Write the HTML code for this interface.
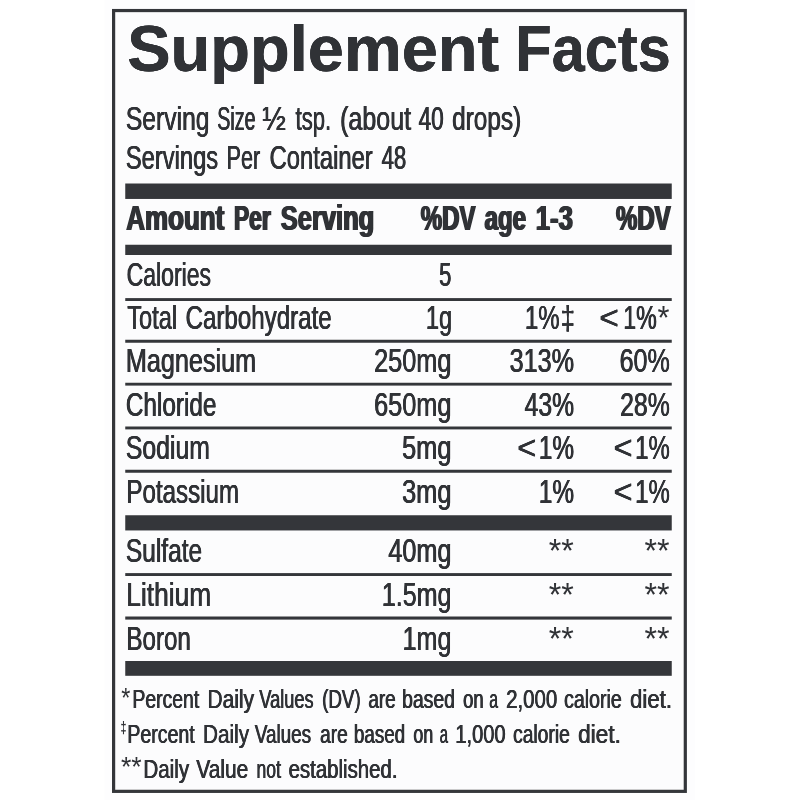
<!DOCTYPE html>
<html lang="en"><head><meta charset="utf-8"><title>Supplement Facts</title>
<style>
html,body{margin:0;padding:0;background:#fff;}
body{width:800px;height:800px;overflow:hidden;position:relative;}
svg{display:block;position:absolute;left:0;top:0;}
.t{position:absolute;left:0;top:0;margin:0;white-space:pre;line-height:1;transform-origin:0 0;
   font-family:"Liberation Sans", sans-serif;color:#303236;font-weight:normal;}
.b{font-weight:bold;}
</style></head>
<body>
<svg width="800" height="800" viewBox="0 0 800 800">
<rect x="104.5" y="0" width="590.8" height="800" fill="#fdfdfe"/>
<rect x="113.6" y="10.55" width="571.7" height="780.8" fill="#fcfcfd" stroke="#34363a" stroke-width="3.2"/>
<rect x="125.25" y="183.50" width="546.50" height="15.45" fill="#34363a"/>
<rect x="125.25" y="244.75" width="546.50" height="10.25" fill="#34363a"/>
<rect x="125.25" y="515.25" width="546.50" height="15.20" fill="#34363a"/>
<rect x="125.25" y="661.00" width="546.50" height="14.80" fill="#34363a"/>
<rect x="125.25" y="298.10" width="546.50" height="2.90" fill="#34363a"/>
<rect x="125.25" y="339.75" width="546.50" height="3.00" fill="#34363a"/>
<rect x="125.25" y="382.75" width="546.50" height="2.85" fill="#34363a"/>
<rect x="125.25" y="426.50" width="546.50" height="2.90" fill="#34363a"/>
<rect x="125.25" y="469.75" width="546.50" height="3.00" fill="#34363a"/>
<rect x="125.25" y="573.10" width="546.50" height="2.90" fill="#34363a"/>
<rect x="125.25" y="616.50" width="546.50" height="3.10" fill="#34363a"/>
</svg>
<div class="t b" style="font-size:65px;text-shadow:0.200px 0 0 #303236,-0.200px 0 0 #303236;transform:matrix(1.0001,0,0,1,127.20,16.00)">Supplement</div>
<div class="t b" style="font-size:65px;text-shadow:0.218px 0 0 #303236,-0.218px 0 0 #303236;transform:matrix(0.9157,0,0,1,515.29,16.00)">Facts</div>
<div class="t" style="font-size:33.2px;text-shadow:0.430px 0 0 #303236,-0.430px 0 0 #303236;transform:matrix(0.7437,0,0,1,125.83,102.00)">Serving</div>
<div class="t" style="font-size:33.2px;text-shadow:0.539px 0 0 #303236,-0.539px 0 0 #303236;transform:matrix(0.5935,0,0,1,217.23,102.00)">Size</div>
<div class="t" style="font-size:33.2px;text-shadow:0.378px 0 0 #303236,-0.378px 0 0 #303236;transform:matrix(0.8467,0,0,1,262.32,102.00)">½</div>
<div class="t" style="font-size:33.2px;text-shadow:0.481px 0 0 #303236,-0.481px 0 0 #303236;transform:matrix(0.6653,0,0,1,295.57,102.00)">tsp.</div>
<div class="t" style="font-size:33.2px;text-shadow:0.424px 0 0 #303236,-0.424px 0 0 #303236;transform:matrix(0.7549,0,0,1,340.06,102.00)">(about</div>
<div class="t" style="font-size:33.2px;text-shadow:0.469px 0 0 #303236,-0.469px 0 0 #303236;transform:matrix(0.6819,0,0,1,418.57,102.00)">40</div>
<div class="t" style="font-size:33.2px;text-shadow:0.436px 0 0 #303236,-0.436px 0 0 #303236;transform:matrix(0.7346,0,0,1,452.09,102.00)">drops)</div>
<div class="t" style="font-size:33.2px;text-shadow:0.448px 0 0 #303236,-0.448px 0 0 #303236;transform:matrix(0.7144,0,0,1,125.86,141.00)">Servings</div>
<div class="t" style="font-size:33.2px;text-shadow:0.490px 0 0 #303236,-0.490px 0 0 #303236;transform:matrix(0.6525,0,0,1,226.51,141.00)">Per</div>
<div class="t" style="font-size:33.2px;text-shadow:0.447px 0 0 #303236,-0.447px 0 0 #303236;transform:matrix(0.7166,0,0,1,269.60,141.00)">Container</div>
<div class="t" style="font-size:33.2px;text-shadow:0.479px 0 0 #303236,-0.479px 0 0 #303236;transform:matrix(0.6682,0,0,1,381.57,141.00)">48</div>
<div class="t b" style="font-size:34.4px;text-shadow:1.060px 0 0 #303236,-1.060px 0 0 #303236;transform:matrix(0.7544,0,0,1,126.30,201.00)">Amount</div>
<div class="t b" style="font-size:34.4px;text-shadow:1.208px 0 0 #303236,-1.208px 0 0 #303236;transform:matrix(0.6624,0,0,1,233.98,201.00)">Per</div>
<div class="t b" style="font-size:34.4px;text-shadow:1.081px 0 0 #303236,-1.081px 0 0 #303236;transform:matrix(0.7403,0,0,1,280.80,201.00)">Serving</div>
<div class="t b" style="font-size:34.4px;text-shadow:1.147px 0 0 #303236,-1.147px 0 0 #303236;transform:matrix(0.6976,0,0,1,420.80,201.00)">%DV</div>
<div class="t b" style="font-size:34.4px;text-shadow:1.146px 0 0 #303236,-1.146px 0 0 #303236;transform:matrix(0.6984,0,0,1,484.60,201.00)">age</div>
<div class="t b" style="font-size:34.4px;text-shadow:1.074px 0 0 #303236,-1.074px 0 0 #303236;transform:matrix(0.7450,0,0,1,535.81,201.00)">1-3</div>
<div class="t b" style="font-size:34.4px;text-shadow:1.147px 0 0 #303236,-1.147px 0 0 #303236;transform:matrix(0.6976,0,0,1,616.00,201.00)">%DV</div>
<div class="t" style="font-size:33.6px;text-shadow:0.467px 0 0 #303236,-0.467px 0 0 #303236;transform:matrix(0.6852,0,0,1,126.63,258.00)">Calories</div>
<div class="t" style="font-size:33.6px;text-shadow:0.490px 0 0 #303236,-0.490px 0 0 #303236;transform:matrix(0.6535,0,0,1,439.17,258.00)">5</div>
<div class="t" style="font-size:33.6px;text-shadow:0.455px 0 0 #303236,-0.455px 0 0 #303236;transform:matrix(0.7034,0,0,1,127.22,301.00)">Total</div>
<div class="t" style="font-size:33.6px;text-shadow:0.446px 0 0 #303236,-0.446px 0 0 #303236;transform:matrix(0.7179,0,0,1,185.60,301.00)">Carbohydrate</div>
<div class="t" style="font-size:33.6px;text-shadow:0.456px 0 0 #303236,-0.456px 0 0 #303236;transform:matrix(0.7011,0,0,1,425.92,301.00)">1g</div>
<div class="t" style="font-size:33.6px;text-shadow:0.448px 0 0 #303236,-0.448px 0 0 #303236;transform:matrix(0.7151,0,0,1,524.89,301.00)">1%</div>
<div class="t" style="font-size:32.4px;text-shadow:0.250px 0 0 #303236,-0.250px 0 0 #303236;transform:matrix(0.8000,0,0,1,560.60,302.00)">‡</div>
<div class="t" style="font-size:33.6px;text-shadow:0.323px 0 0 #303236,-0.323px 0 0 #303236;transform:matrix(0.9918,0,0,1,599.33,301.00)">&lt;</div>
<div class="t" style="font-size:33.6px;text-shadow:0.463px 0 0 #303236,-0.463px 0 0 #303236;transform:matrix(0.6910,0,0,1,623.24,301.00)">1%</div>
<div class="t" style="font-size:33.6px;transform:matrix(0.9154,0,0,1,657.60,301.00)">*</div>
<div class="t" style="font-size:33.6px;text-shadow:0.426px 0 0 #303236,-0.426px 0 0 #303236;transform:matrix(0.7510,0,0,1,125.82,344.00)">Magnesium</div>
<div class="t" style="font-size:33.6px;text-shadow:0.425px 0 0 #303236,-0.425px 0 0 #303236;transform:matrix(0.7536,0,0,1,374.07,344.00)">250mg</div>
<div class="t" style="font-size:33.6px;text-shadow:0.426px 0 0 #303236,-0.426px 0 0 #303236;transform:matrix(0.7511,0,0,1,509.57,344.00)">313%</div>
<div class="t" style="font-size:33.6px;text-shadow:0.428px 0 0 #303236,-0.428px 0 0 #303236;transform:matrix(0.7477,0,0,1,619.57,344.00)">60%</div>
<div class="t" style="font-size:33.6px;text-shadow:0.442px 0 0 #303236,-0.442px 0 0 #303236;transform:matrix(0.7243,0,0,1,125.85,388.00)">Chloride</div>
<div class="t" style="font-size:33.6px;text-shadow:0.425px 0 0 #303236,-0.425px 0 0 #303236;transform:matrix(0.7536,0,0,1,374.07,388.00)">650mg</div>
<div class="t" style="font-size:33.6px;text-shadow:0.435px 0 0 #303236,-0.435px 0 0 #303236;transform:matrix(0.7364,0,0,1,524.57,388.00)">43%</div>
<div class="t" style="font-size:33.6px;text-shadow:0.432px 0 0 #303236,-0.432px 0 0 #303236;transform:matrix(0.7400,0,0,1,620.08,388.00)">28%</div>
<div class="t" style="font-size:33.6px;text-shadow:0.433px 0 0 #303236,-0.433px 0 0 #303236;transform:matrix(0.7383,0,0,1,125.83,431.00)">Sodium</div>
<div class="t" style="font-size:33.6px;text-shadow:0.423px 0 0 #303236,-0.423px 0 0 #303236;transform:matrix(0.7560,0,0,1,402.06,431.00)">5mg</div>
<div class="t" style="font-size:33.6px;text-shadow:0.333px 0 0 #303236,-0.333px 0 0 #303236;transform:matrix(0.9624,0,0,1,517.36,431.00)">&lt;</div>
<div class="t" style="font-size:33.6px;text-shadow:0.441px 0 0 #303236,-0.441px 0 0 #303236;transform:matrix(0.7249,0,0,1,538.87,431.00)">1%</div>
<div class="t" style="font-size:33.6px;text-shadow:0.333px 0 0 #303236,-0.333px 0 0 #303236;transform:matrix(0.9624,0,0,1,613.61,431.00)">&lt;</div>
<div class="t" style="font-size:33.6px;text-shadow:0.448px 0 0 #303236,-0.448px 0 0 #303236;transform:matrix(0.7140,0,0,1,635.14,431.00)">1%</div>
<div class="t" style="font-size:33.6px;text-shadow:0.445px 0 0 #303236,-0.445px 0 0 #303236;transform:matrix(0.7190,0,0,1,126.38,475.00)">Potassium</div>
<div class="t" style="font-size:33.6px;text-shadow:0.423px 0 0 #303236,-0.423px 0 0 #303236;transform:matrix(0.7560,0,0,1,402.06,475.00)">3mg</div>
<div class="t" style="font-size:33.6px;text-shadow:0.441px 0 0 #303236,-0.441px 0 0 #303236;transform:matrix(0.7249,0,0,1,538.87,475.00)">1%</div>
<div class="t" style="font-size:33.6px;text-shadow:0.333px 0 0 #303236,-0.333px 0 0 #303236;transform:matrix(0.9624,0,0,1,613.61,475.00)">&lt;</div>
<div class="t" style="font-size:33.6px;text-shadow:0.448px 0 0 #303236,-0.448px 0 0 #303236;transform:matrix(0.7140,0,0,1,635.14,475.00)">1%</div>
<div class="t" style="font-size:33.6px;text-shadow:0.438px 0 0 #303236,-0.438px 0 0 #303236;transform:matrix(0.7302,0,0,1,125.84,534.00)">Sulfate</div>
<div class="t" style="font-size:33.6px;text-shadow:0.426px 0 0 #303236,-0.426px 0 0 #303236;transform:matrix(0.7515,0,0,1,388.32,534.00)">40mg</div>
<div class="t" style="font-size:33.6px;transform:matrix(0.9591,0,0,1,548.75,534.00)">**</div>
<div class="t" style="font-size:33.6px;transform:matrix(0.9591,0,0,1,644.50,534.00)">**</div>
<div class="t" style="font-size:33.6px;text-shadow:0.408px 0 0 #303236,-0.408px 0 0 #303236;transform:matrix(0.7851,0,0,1,126.25,578.00)">Lithium</div>
<div class="t" style="font-size:33.6px;text-shadow:0.429px 0 0 #303236,-0.429px 0 0 #303236;transform:matrix(0.7458,0,0,1,381.83,578.00)">1.5mg</div>
<div class="t" style="font-size:33.6px;transform:matrix(0.9591,0,0,1,548.75,578.00)">**</div>
<div class="t" style="font-size:33.6px;transform:matrix(0.9591,0,0,1,644.50,578.00)">**</div>
<div class="t" style="font-size:33.6px;text-shadow:0.444px 0 0 #303236,-0.444px 0 0 #303236;transform:matrix(0.7199,0,0,1,126.38,622.00)">Boron</div>
<div class="t" style="font-size:33.6px;text-shadow:0.428px 0 0 #303236,-0.428px 0 0 #303236;transform:matrix(0.7480,0,0,1,402.57,622.00)">1mg</div>
<div class="t" style="font-size:33.6px;transform:matrix(0.9591,0,0,1,548.75,622.00)">**</div>
<div class="t" style="font-size:33.6px;transform:matrix(0.9591,0,0,1,644.50,622.00)">**</div>
<div class="t" style="font-size:27.5px;transform:matrix(0.8500,0,0,1,121.25,683.60)">*</div>
<div class="t" style="font-size:26.5px;text-shadow:0.465px 0 0 #303236,-0.465px 0 0 #303236;transform:matrix(0.7316,0,0,1,132.38,686.00)">Percent</div>
<div class="t" style="font-size:26.5px;text-shadow:0.430px 0 0 #303236,-0.430px 0 0 #303236;transform:matrix(0.7905,0,0,1,207.51,686.00)">Daily</div>
<div class="t" style="font-size:26.5px;text-shadow:0.496px 0 0 #303236,-0.496px 0 0 #303236;transform:matrix(0.6861,0,0,1,259.34,686.00)">Values</div>
<div class="t" style="font-size:26.5px;text-shadow:0.480px 0 0 #303236,-0.480px 0 0 #303236;transform:matrix(0.7090,0,0,1,322.13,686.00)">(DV)</div>
<div class="t" style="font-size:26.5px;text-shadow:0.477px 0 0 #303236,-0.477px 0 0 #303236;transform:matrix(0.7130,0,0,1,368.38,686.00)">are</div>
<div class="t" style="font-size:26.5px;text-shadow:0.465px 0 0 #303236,-0.465px 0 0 #303236;transform:matrix(0.7319,0,0,1,402.11,686.00)">based</div>
<div class="t" style="font-size:26.5px;text-shadow:0.486px 0 0 #303236,-0.486px 0 0 #303236;transform:matrix(0.7001,0,0,1,463.04,686.00)">on</div>
<div class="t" style="font-size:26.5px;text-shadow:0.572px 0 0 #303236,-0.572px 0 0 #303236;transform:matrix(0.5943,0,0,1,489.25,686.00)">a</div>
<div class="t" style="font-size:26.5px;text-shadow:0.442px 0 0 #303236,-0.442px 0 0 #303236;transform:matrix(0.7699,0,0,1,506.17,686.00)">2,000</div>
<div class="t" style="font-size:26.5px;text-shadow:0.461px 0 0 #303236,-0.461px 0 0 #303236;transform:matrix(0.7379,0,0,1,564.10,686.00)">calorie</div>
<div class="t" style="font-size:26.5px;text-shadow:0.405px 0 0 #303236,-0.405px 0 0 #303236;transform:matrix(0.8394,0,0,1,630.00,686.00)">diet.</div>
<div class="t b" style="font-size:16.5px;transform:matrix(0.6500,0,0,1,120.55,719.00)">‡</div>
<div class="t" style="font-size:26.5px;text-shadow:0.461px 0 0 #303236,-0.461px 0 0 #303236;transform:matrix(0.7372,0,0,1,127.37,720.60)">Percent</div>
<div class="t" style="font-size:26.5px;text-shadow:0.435px 0 0 #303236,-0.435px 0 0 #303236;transform:matrix(0.7818,0,0,1,203.03,720.60)">Daily</div>
<div class="t" style="font-size:26.5px;text-shadow:0.478px 0 0 #303236,-0.478px 0 0 #303236;transform:matrix(0.7115,0,0,1,254.84,720.60)">Values</div>
<div class="t" style="font-size:26.5px;text-shadow:0.472px 0 0 #303236,-0.472px 0 0 #303236;transform:matrix(0.7199,0,0,1,320.12,720.60)">are</div>
<div class="t" style="font-size:26.5px;text-shadow:0.478px 0 0 #303236,-0.478px 0 0 #303236;transform:matrix(0.7106,0,0,1,353.88,720.60)">based</div>
<div class="t" style="font-size:26.5px;text-shadow:0.508px 0 0 #303236,-0.508px 0 0 #303236;transform:matrix(0.6695,0,0,1,413.42,720.60)">on</div>
<div class="t" style="font-size:26.5px;text-shadow:0.609px 0 0 #303236,-0.609px 0 0 #303236;transform:matrix(0.5586,0,0,1,439.78,720.60)">a</div>
<div class="t" style="font-size:26.5px;text-shadow:0.448px 0 0 #303236,-0.448px 0 0 #303236;transform:matrix(0.7585,0,0,1,455.32,720.60)">1,000</div>
<div class="t" style="font-size:26.5px;text-shadow:0.468px 0 0 #303236,-0.468px 0 0 #303236;transform:matrix(0.7261,0,0,1,513.11,720.60)">calorie</div>
<div class="t" style="font-size:26.5px;text-shadow:0.398px 0 0 #303236,-0.398px 0 0 #303236;transform:matrix(0.8543,0,0,1,578.09,720.60)">diet.</div>
<div class="t" style="font-size:27.5px;transform:matrix(0.9677,0,0,1,121.00,752.60)">**</div>
<div class="t" style="font-size:26.5px;text-shadow:0.438px 0 0 #303236,-0.438px 0 0 #303236;transform:matrix(0.7757,0,0,1,143.39,755.60)">Daily</div>
<div class="t" style="font-size:26.5px;text-shadow:0.431px 0 0 #303236,-0.431px 0 0 #303236;transform:matrix(0.7887,0,0,1,196.34,755.60)">Value</div>
<div class="t" style="font-size:26.5px;text-shadow:0.512px 0 0 #303236,-0.512px 0 0 #303236;transform:matrix(0.6640,0,0,1,256.48,755.60)">not</div>
<div class="t" style="font-size:26.5px;text-shadow:0.442px 0 0 #303236,-0.442px 0 0 #303236;transform:matrix(0.7701,0,0,1,288.57,755.60)">established.</div>
</body></html>
